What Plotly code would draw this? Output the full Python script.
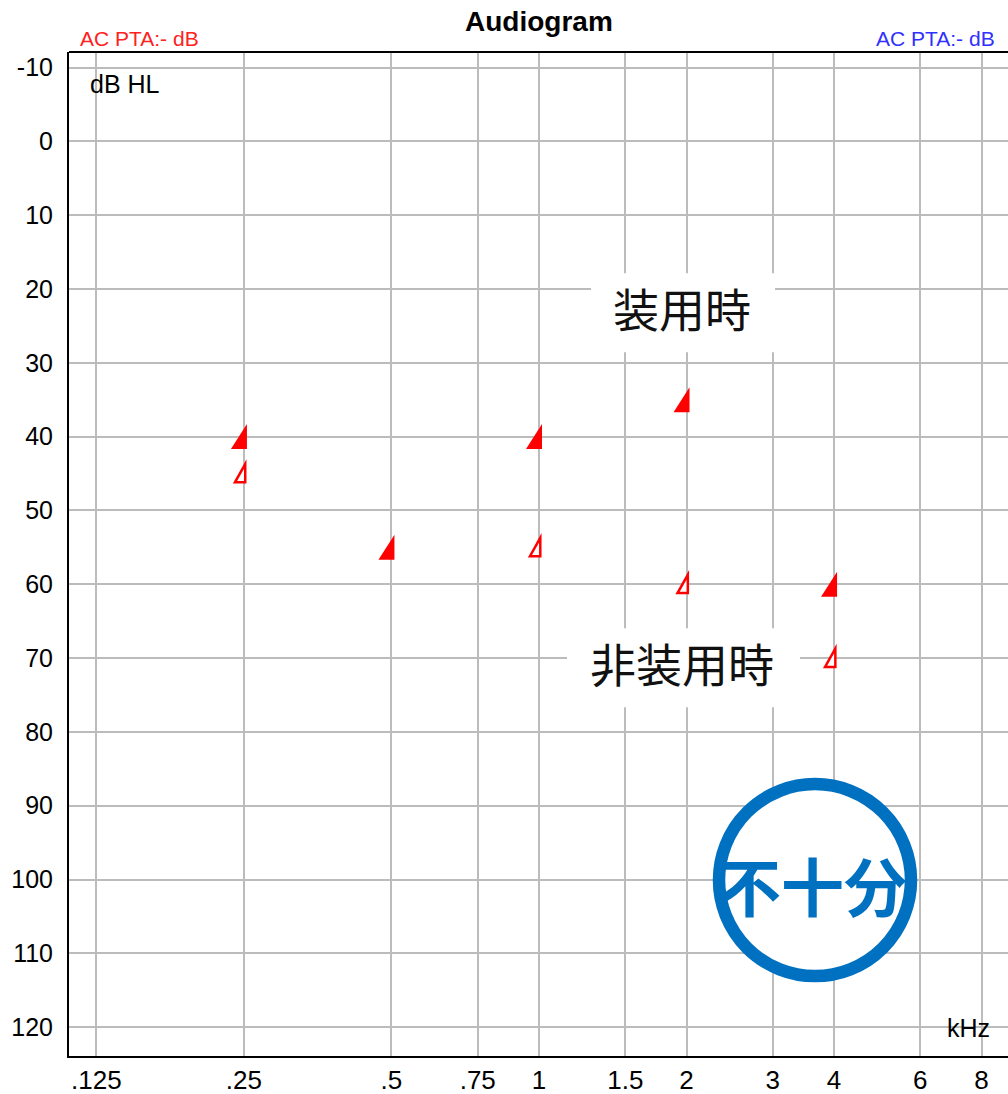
import plotly.graph_objects as go

# Audiogram data (frequency in kHz, threshold in dB HL)
freq_ticks = [0.125, 0.25, 0.5, 0.75, 1, 1.5, 2, 3, 4, 6, 8]
freq_labels = [".125", ".25", ".5", ".75", "1", "1.5", "2", "3", "4", "6", "8"]
db_ticks = list(range(-10, 121, 10))
db_labels = [str(v) for v in db_ticks]

aided_freq = [0.25, 0.5, 1, 2, 4]
aided_db = [40, 55, 40, 35, 60]
unaided_freq = [0.25, 1, 2, 4]
unaided_db = [45, 55, 60, 70]

RED = "#ff0000"
STAMP_BLUE = "#0070c0"
FONT = "Liberation Sans, Arial, sans-serif"
CJK = "Noto Sans CJK JP, sans-serif"

PLOT_L, PLOT_T, PLOT_W, PLOT_H = 69, 51.5, 939, 1004.5


def px(x):
    return (x - PLOT_L) / PLOT_W


def py(y):
    return 1 - (y - PLOT_T) / PLOT_H


fig = go.Figure()

# invisible traces so the axes know about the data (and hover works)
fig.add_trace(go.Scatter(x=aided_freq, y=aided_db, mode="markers",
                         marker=dict(size=14, opacity=0), name="装用時",
                         hoverinfo="x+y"))
fig.add_trace(go.Scatter(x=unaided_freq, y=unaided_db, mode="markers",
                         marker=dict(size=12, opacity=0), name="非装用時",
                         hoverinfo="x+y"))

shapes = []
# aided thresholds: solid right-angle triangles sitting on the frequency line
for f, d in zip(aided_freq, aided_db):
    shapes.append(dict(type="path", xref="x", yref="y",
                       xsizemode="pixel", ysizemode="pixel",
                       xanchor=f, yanchor=d,
                       path="M 3,12.5 L 3,-12.5 L -13,-12.5 Z",
                       fillcolor=RED, line=dict(width=0), layer="above"))
# unaided thresholds: outlined triangles
for f, d in zip(unaided_freq, unaided_db):
    shapes.append(dict(type="path", xref="x", yref="y",
                       xsizemode="pixel", ysizemode="pixel",
                       xanchor=f, yanchor=d,
                       path="M 1.3,9.5 L 1.3,-8.8 L -9.0,-8.8 Z",
                       fillcolor="white", line=dict(color=RED, width=2.5),
                       layer="above"))

# white backing boxes behind the two labels
for (bx, by, bw, bh) in [(683, 312.5, 184, 79), (683.5, 667.5, 233, 79)]:
    shapes.append(dict(type="rect", xref="paper", yref="paper",
                       xsizemode="pixel", ysizemode="pixel",
                       xanchor=px(bx), yanchor=py(by),
                       x0=-bw / 2, x1=bw / 2, y0=-bh / 2, y1=bh / 2,
                       fillcolor="white", line=dict(width=0), layer="above"))

# top frame line
shapes.append(dict(type="line", xref="paper", yref="paper", x0=0, x1=1, y0=1, y1=1,
                   line=dict(color="black", width=2), layer="above"))

# stamp circle
shapes.append(dict(type="circle", xref="paper", yref="paper",
                   xsizemode="pixel", ysizemode="pixel",
                   xanchor=px(815), yanchor=py(880),
                   x0=-96, x1=96, y0=-96, y1=96,
                   fillcolor="white", line=dict(color=STAMP_BLUE, width=12.5),
                   layer="above"))

annotations = [
    dict(text="<b>Audiogram</b>", xref="paper", yref="paper", x=0.5, y=1.0304,
         xanchor="center", yanchor="middle", showarrow=False,
         font=dict(family=FONT, size=28, color="black")),
    dict(text="AC PTA:- dB", xref="paper", yref="paper", x=0.0096, y=1.0134,
         xanchor="left", yanchor="middle", showarrow=False,
         font=dict(family=FONT, size=21, color="#ff2020")),
    dict(text="AC PTA:- dB", xref="paper", yref="paper", x=0.9883, y=1.0134,
         xanchor="right", yanchor="middle", showarrow=False,
         font=dict(family=FONT, size=21, color="#3030ff")),
    dict(text="dB HL", xref="paper", yref="paper", x=0.0202, y=0.9686,
         xanchor="left", yanchor="middle", showarrow=False,
         font=dict(family=FONT, size=25, color="black")),
    dict(text="kHz", xref="paper", yref="paper", x=0.983, y=0.0279,
         xanchor="right", yanchor="middle", showarrow=False,
         font=dict(family=FONT, size=25, color="black")),
    dict(text="装用時", xref="paper", yref="paper",
         x=px(682), y=py(311), yshift=4,
         xanchor="center", yanchor="middle", showarrow=False,
         font=dict(family=CJK, size=46, color="#111111")),
    dict(text="非装用時", xref="paper", yref="paper",
         x=px(681.5), y=py(665.5), yshift=4,
         xanchor="center", yanchor="middle", showarrow=False,
         font=dict(family=CJK, size=46, color="#111111")),
    dict(text="<b>不十分</b>", xref="paper", yref="paper",
         x=px(812.5), y=py(883.5),
         xanchor="center", yanchor="middle", showarrow=False,
         font=dict(family=CJK, size=63, color=STAMP_BLUE)),
]

fig.update_layout(
    width=1008, height=1094,
    margin=dict(l=69, r=0, t=52, b=38),
    paper_bgcolor="white", plot_bgcolor="white",
    showlegend=False,
    shapes=shapes, annotations=annotations,
    xaxis=dict(type="log", range=[-0.959, 0.957], automargin=False,
               tickvals=freq_ticks, ticktext=freq_labels,
               showgrid=True, gridcolor="#bcbcbc", gridwidth=1.8,
               showline=True, linecolor="black", linewidth=2,
               ticks="", ticklabelstandoff=0, zeroline=False,
               tickfont=dict(family=FONT, size=26, color="black")),
    yaxis=dict(range=[123.9, -12.1], autorange=False, automargin=False,
               tickvals=db_ticks, ticktext=db_labels,
               showgrid=True, gridcolor="#bcbcbc", gridwidth=1.8,
               showline=True, linecolor="black", linewidth=2,
               ticks="", ticklabelstandoff=9, zeroline=False,
               tickfont=dict(family=FONT, size=25, color="black")),
)

fig.write_html("out.html")
